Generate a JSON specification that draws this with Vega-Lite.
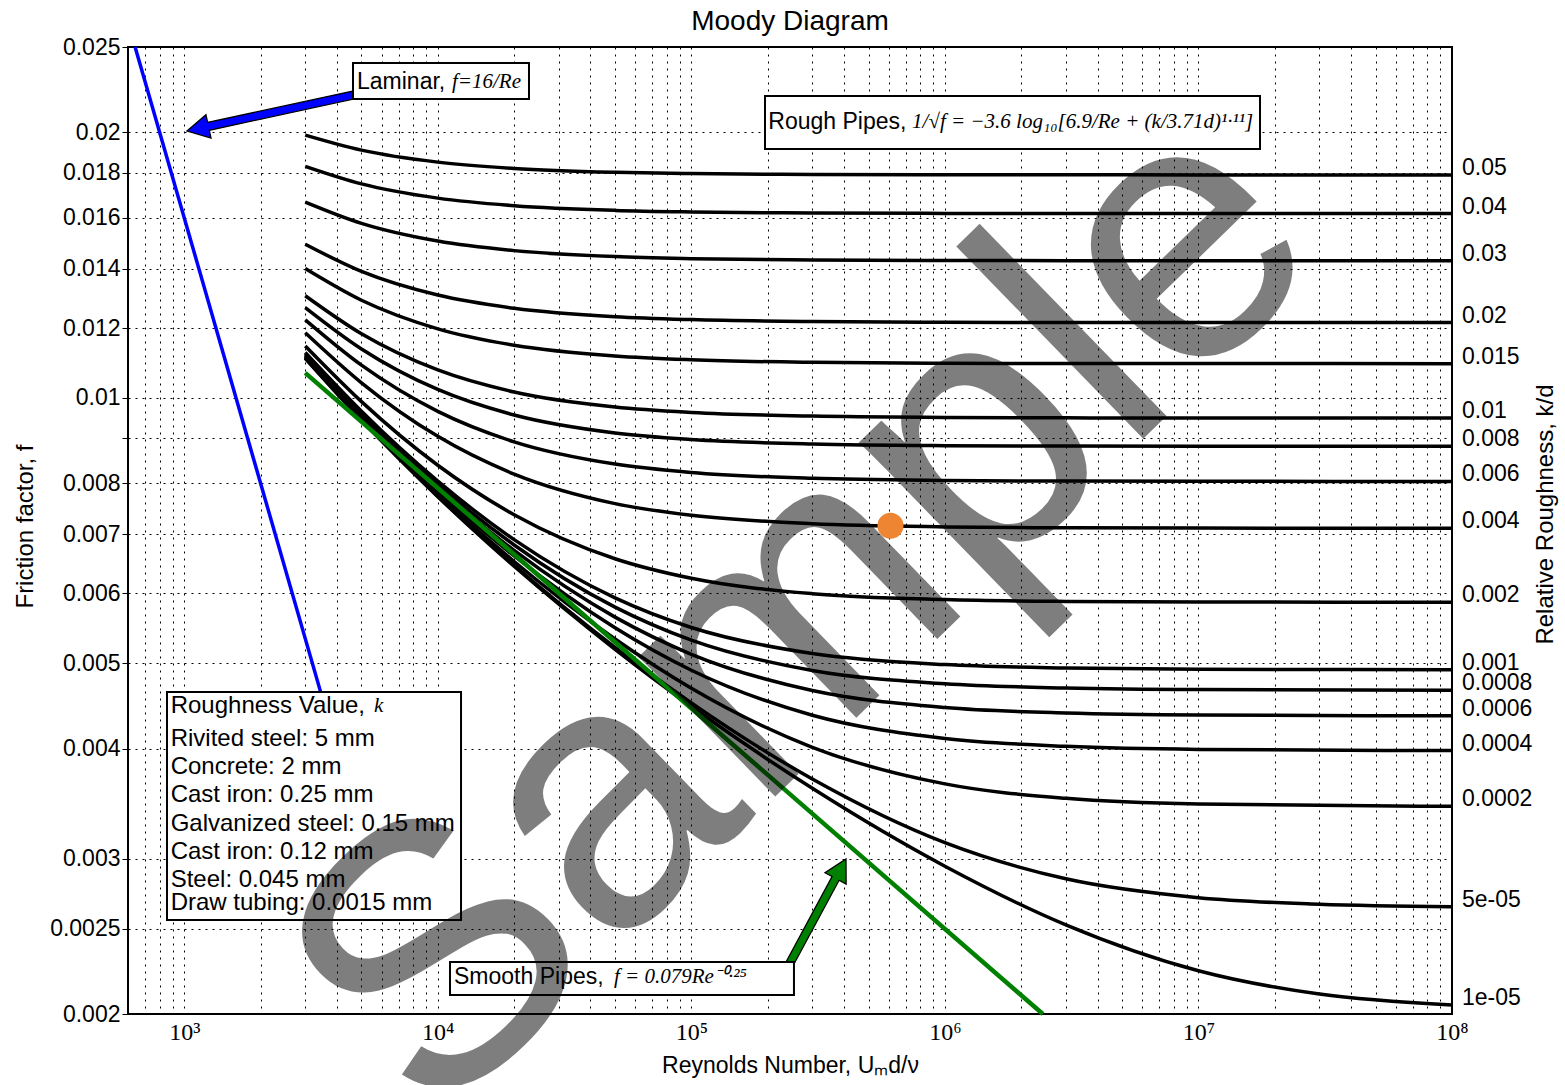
{
  "$schema": "https://vega.github.io/schema/vega-lite/v6.json",
  "width": 1324,
  "height": 967,
  "autosize": {"type": "none"},
  "padding": {"left": 128, "top": 47, "right": 113, "bottom": 71},
  "background": "white",
  "title": {"text": "Moody Diagram", "fontSize": 28, "fontWeight": "normal", "font": "Liberation Sans", "color": "black", "frame": "group", "anchor": "middle", "baseline": "alphabetic", "offset": -22},
  "config": {"view": {"stroke": "black", "strokeWidth": 2}, "font": "Liberation Sans"},
  "resolve": {"axis": {"y": "independent"}},
  "datasets": {
    "curves": [
      {"k":"0.05","Re":3000,"f":0.019862},{"k":"0.05","Re":5000,"f":0.019097},{"k":"0.05","Re":10000,"f":0.018507},{"k":"0.05","Re":20000,"f":0.018206},{"k":"0.05","Re":50000,"f":0.018023},{"k":"0.05","Re":100000,"f":0.017962},{"k":"0.05","Re":300000,"f":0.017921},{"k":"0.05","Re":1000000,"f":0.017907},{"k":"0.05","Re":3000000,"f":0.017902},{"k":"0.05","Re":10000000,"f":0.017901},{"k":"0.05","Re":100000000,"f":0.017901},
      {"k":"0.04","Re":3000,"f":0.018307},{"k":"0.04","Re":5000,"f":0.017486},{"k":"0.04","Re":10000,"f":0.016846},{"k":"0.04","Re":20000,"f":0.016517},{"k":"0.04","Re":50000,"f":0.016316},{"k":"0.04","Re":100000,"f":0.016249},{"k":"0.04","Re":300000,"f":0.016204},{"k":"0.04","Re":1000000,"f":0.016188},{"k":"0.04","Re":3000000,"f":0.016183},{"k":"0.04","Re":10000000,"f":0.016181},{"k":"0.04","Re":100000000,"f":0.016181},
      {"k":"0.03","Re":3000,"f":0.016674},{"k":"0.03","Re":5000,"f":0.015772},{"k":"0.03","Re":10000,"f":0.015059},{"k":"0.03","Re":20000,"f":0.014688},{"k":"0.03","Re":50000,"f":0.014460},{"k":"0.03","Re":100000,"f":0.014384},{"k":"0.03","Re":300000,"f":0.014332},{"k":"0.03","Re":1000000,"f":0.014314},{"k":"0.03","Re":3000000,"f":0.014308},{"k":"0.03","Re":10000000,"f":0.014306},{"k":"0.03","Re":100000000,"f":0.014306},
      {"k":"0.02","Re":3000,"f":0.014936},{"k":"0.02","Re":5000,"f":0.013912},{"k":"0.02","Re":10000,"f":0.013079},{"k":"0.02","Re":20000,"f":0.012636},{"k":"0.02","Re":50000,"f":0.012360},{"k":"0.02","Re":100000,"f":0.012266},{"k":"0.02","Re":300000,"f":0.012203},{"k":"0.02","Re":1000000,"f":0.012181},{"k":"0.02","Re":3000000,"f":0.012174},{"k":"0.02","Re":10000000,"f":0.012172},{"k":"0.02","Re":100000000,"f":0.012171},
      {"k":"0.015","Re":3000,"f":0.014016},{"k":"0.015","Re":5000,"f":0.012902},{"k":"0.015","Re":10000,"f":0.011975},{"k":"0.015","Re":20000,"f":0.011472},{"k":"0.015","Re":50000,"f":0.011154},{"k":"0.015","Re":100000,"f":0.011044},{"k":"0.015","Re":300000,"f":0.010970},{"k":"0.015","Re":1000000,"f":0.010944},{"k":"0.015","Re":3000000,"f":0.010937},{"k":"0.015","Re":10000000,"f":0.010935},{"k":"0.015","Re":100000000,"f":0.010934},
      {"k":"0.01","Re":3000,"f":0.013055},{"k":"0.01","Re":5000,"f":0.011820},{"k":"0.01","Re":10000,"f":0.010754},{"k":"0.01","Re":20000,"f":0.010153},{"k":"0.01","Re":50000,"f":0.009763},{"k":"0.01","Re":100000,"f":0.009626},{"k":"0.01","Re":300000,"f":0.009533},{"k":"0.01","Re":1000000,"f":0.009500},{"k":"0.01","Re":3000000,"f":0.009490},{"k":"0.01","Re":10000000,"f":0.009487},{"k":"0.01","Re":100000000,"f":0.009486},
      {"k":"0.008","Re":3000,"f":0.012659},{"k":"0.008","Re":5000,"f":0.011362},{"k":"0.008","Re":10000,"f":0.010220},{"k":"0.008","Re":20000,"f":0.009561},{"k":"0.008","Re":50000,"f":0.009123},{"k":"0.008","Re":100000,"f":0.008969},{"k":"0.008","Re":300000,"f":0.008863},{"k":"0.008","Re":1000000,"f":0.008825},{"k":"0.008","Re":3000000,"f":0.008815},{"k":"0.008","Re":10000000,"f":0.008811},{"k":"0.008","Re":100000000,"f":0.008809},
      {"k":"0.006","Re":3000,"f":0.012257},{"k":"0.006","Re":5000,"f":0.010889},{"k":"0.006","Re":10000,"f":0.009651},{"k":"0.006","Re":20000,"f":0.008914},{"k":"0.006","Re":50000,"f":0.008411},{"k":"0.006","Re":100000,"f":0.008229},{"k":"0.006","Re":300000,"f":0.008103},{"k":"0.006","Re":1000000,"f":0.008058},{"k":"0.006","Re":3000000,"f":0.008045},{"k":"0.006","Re":10000000,"f":0.008040},{"k":"0.006","Re":100000000,"f":0.008038},
      {"k":"0.004","Re":3000,"f":0.011852},{"k":"0.004","Re":5000,"f":0.010400},{"k":"0.004","Re":10000,"f":0.009042},{"k":"0.004","Re":20000,"f":0.008194},{"k":"0.004","Re":50000,"f":0.007586},{"k":"0.004","Re":100000,"f":0.007358},{"k":"0.004","Re":300000,"f":0.007197},{"k":"0.004","Re":1000000,"f":0.007138},{"k":"0.004","Re":3000000,"f":0.007121},{"k":"0.004","Re":10000000,"f":0.007116},{"k":"0.004","Re":100000000,"f":0.007113},
      {"k":"0.002","Re":3000,"f":0.011450},{"k":"0.002","Re":5000,"f":0.009901},{"k":"0.002","Re":10000,"f":0.008385},{"k":"0.002","Re":20000,"f":0.007368},{"k":"0.002","Re":50000,"f":0.006568},{"k":"0.002","Re":100000,"f":0.006241},{"k":"0.002","Re":300000,"f":0.005996},{"k":"0.002","Re":1000000,"f":0.005904},{"k":"0.002","Re":3000000,"f":0.005876},{"k":"0.002","Re":10000000,"f":0.005867},{"k":"0.002","Re":100000000,"f":0.005863},
      {"k":"0.001","Re":3000,"f":0.011257},{"k":"0.001","Re":5000,"f":0.009654},{"k":"0.001","Re":10000,"f":0.008043},{"k":"0.001","Re":20000,"f":0.006905},{"k":"0.001","Re":50000,"f":0.005931},{"k":"0.001","Re":100000,"f":0.005489},{"k":"0.001","Re":300000,"f":0.005128},{"k":"0.001","Re":1000000,"f":0.004982},{"k":"0.001","Re":3000000,"f":0.004938},{"k":"0.001","Re":10000000,"f":0.004922},{"k":"0.001","Re":100000000,"f":0.004916},
      {"k":"0.0008","Re":3000,"f":0.011220},{"k":"0.0008","Re":5000,"f":0.009607},{"k":"0.0008","Re":10000,"f":0.007975},{"k":"0.0008","Re":20000,"f":0.006809},{"k":"0.0008","Re":50000,"f":0.005788},{"k":"0.0008","Re":100000,"f":0.005310},{"k":"0.0008","Re":300000,"f":0.004906},{"k":"0.0008","Re":1000000,"f":0.004738},{"k":"0.0008","Re":3000000,"f":0.004686},{"k":"0.0008","Re":10000000,"f":0.004667},{"k":"0.0008","Re":100000000,"f":0.004660},
      {"k":"0.0006","Re":3000,"f":0.011183},{"k":"0.0006","Re":5000,"f":0.009559},{"k":"0.0006","Re":10000,"f":0.007907},{"k":"0.0006","Re":20000,"f":0.006712},{"k":"0.0006","Re":50000,"f":0.005639},{"k":"0.0006","Re":100000,"f":0.005118},{"k":"0.0006","Re":300000,"f":0.004656},{"k":"0.0006","Re":1000000,"f":0.004454},{"k":"0.0006","Re":3000000,"f":0.004390},{"k":"0.0006","Re":10000000,"f":0.004367},{"k":"0.0006","Re":100000000,"f":0.004358},
      {"k":"0.0004","Re":3000,"f":0.011148},{"k":"0.0004","Re":5000,"f":0.009514},{"k":"0.0004","Re":10000,"f":0.007841},{"k":"0.0004","Re":20000,"f":0.006616},{"k":"0.0004","Re":50000,"f":0.005484},{"k":"0.0004","Re":100000,"f":0.004909},{"k":"0.0004","Re":300000,"f":0.004365},{"k":"0.0004","Re":1000000,"f":0.004108},{"k":"0.0004","Re":3000000,"f":0.004024},{"k":"0.0004","Re":10000000,"f":0.003992},{"k":"0.0004","Re":100000000,"f":0.003980},
      {"k":"0.0002","Re":3000,"f":0.011115},{"k":"0.0002","Re":5000,"f":0.009470},{"k":"0.0002","Re":10000,"f":0.007777},{"k":"0.0002","Re":20000,"f":0.006521},{"k":"0.0002","Re":50000,"f":0.005326},{"k":"0.0002","Re":100000,"f":0.004683},{"k":"0.0002","Re":300000,"f":0.004014},{"k":"0.0002","Re":1000000,"f":0.003648},{"k":"0.0002","Re":3000000,"f":0.003513},{"k":"0.0002","Re":10000000,"f":0.003461},{"k":"0.0002","Re":100000000,"f":0.003440},
      {"k":"5e-05","Re":3000,"f":0.011092},{"k":"5e-05","Re":5000,"f":0.009441},{"k":"5e-05","Re":10000,"f":0.007734},{"k":"5e-05","Re":20000,"f":0.006456},{"k":"5e-05","Re":50000,"f":0.005211},{"k":"5e-05","Re":100000,"f":0.004508},{"k":"5e-05","Re":300000,"f":0.003695},{"k":"5e-05","Re":1000000,"f":0.003129},{"k":"5e-05","Re":3000000,"f":0.002847},{"k":"5e-05","Re":10000000,"f":0.002710},{"k":"5e-05","Re":30000000,"f":0.002664},{"k":"5e-05","Re":100000000,"f":0.002647},
      {"k":"1e-05","Re":3000,"f":0.011087},{"k":"1e-05","Re":5000,"f":0.009434},{"k":"1e-05","Re":10000,"f":0.007724},{"k":"1e-05","Re":20000,"f":0.006440},{"k":"1e-05","Re":50000,"f":0.005184},{"k":"1e-05","Re":100000,"f":0.004465},{"k":"1e-05","Re":300000,"f":0.003606},{"k":"1e-05","Re":1000000,"f":0.002942},{"k":"1e-05","Re":3000000,"f":0.002524},{"k":"1e-05","Re":10000000,"f":0.002239},{"k":"1e-05","Re":30000000,"f":0.002107},{"k":"1e-05","Re":100000000,"f":0.002048}
    ],
    "laminar": [{"Re": 640, "f": 0.025}, {"Re": 4000, "f": 0.004}],
    "smooth": [{"Re": 3000, "f": 0.010674}, {"Re": 2434000, "f": 0.002}],
    "dot": [{"Re": 610000, "f": 0.00716}],
    "blueTip": [{"Re": 1025, "f": 0.020074}],
    "greenTip": [{"Re": 407300, "f": 0.002998}],
    "boxes": [
      {"Re": 4630, "Re2": 22890, "f": 0.023976, "f2": 0.021825},
      {"Re": 195200, "Re2": 17490000, "f": 0.021997, "f2": 0.019150},
      {"Re": 855, "Re2": 12348, "f": 0.004638, "f2": 0.0025568},
      {"Re": 11173, "Re2": 253930, "f": 0.0022913, "f2": 0.0021017}
    ],
    "headers": [
      {"Re": 4801, "f": 0.022835, "t": "Laminar,"},
      {"Re": 201120, "f": 0.020573, "t": "Rough Pipes,"},
      {"Re": 11587, "f": 0.0022031, "t": "Smooth Pipes,"}
    ],
    "roughness": [
      {"Re": 884, "f": 0.0044711, "t": "Roughness Value,"},
      {"Re": 884, "f": 0.0040992, "t": "Rivited steel: 5 mm"},
      {"Re": 884, "f": 0.0038102, "t": "Concrete: 2 mm"},
      {"Re": 884, "f": 0.0035408, "t": "Cast iron: 0.25 mm"},
      {"Re": 884, "f": 0.0032854, "t": "Galvanized steel: 0.15 mm"},
      {"Re": 884, "f": 0.0030559, "t": "Cast iron: 0.12 mm"},
      {"Re": 884, "f": 0.0028375, "t": "Steel: 0.045 mm"},
      {"Re": 884, "f": 0.0026751, "t": "Draw tubing: 0.0015 mm"}
    ],
    "math": [
      {"Re": 11376, "f": 0.022835, "t": "f=16/Re"},
      {"Re": 742000, "f": 0.020573, "t": "1/√f = −3.6 log₁₀[6.9/Re + (k/3.71d)¹·¹¹]"},
      {"Re": 49536, "f": 0.0022031, "t": "f = 0.079Re⁻⁰·²⁵"},
      {"Re": 5602, "f": 0.0044711, "t": "k"}
    ],
    "labels": [
      {"Re": 100000000, "f": 0.017901, "t": "0.05"},
      {"Re": 100000000, "f": 0.016181, "t": "0.04"},
      {"Re": 100000000, "f": 0.014306, "t": "0.03"},
      {"Re": 100000000, "f": 0.012171, "t": "0.02"},
      {"Re": 100000000, "f": 0.010934, "t": "0.015"},
      {"Re": 100000000, "f": 0.009486, "t": "0.01"},
      {"Re": 100000000, "f": 0.008809, "t": "0.008"},
      {"Re": 100000000, "f": 0.008038, "t": "0.006"},
      {"Re": 100000000, "f": 0.007113, "t": "0.004"},
      {"Re": 100000000, "f": 0.005863, "t": "0.002"},
      {"Re": 100000000, "f": 0.004916, "t": "0.001"},
      {"Re": 100000000, "f": 0.004660, "t": "0.0008"},
      {"Re": 100000000, "f": 0.004358, "t": "0.0006"},
      {"Re": 100000000, "f": 0.003980, "t": "0.0004"},
      {"Re": 100000000, "f": 0.003440, "t": "0.0002"},
      {"Re": 100000000, "f": 0.002647, "t": "5e-05"},
      {"Re": 100000000, "f": 0.002048, "t": "1e-05"}
    ],
    "watermark": [{"Re": 280000, "f": 0.0057, "t": "Sample"}]
  },
  "encoding": {
    "x": {"field": "Re", "type": "quantitative", "scale": {"type": "log", "domain": [600, 100000000], "nice": false},
      "axis": {"values": [700,800,900,1000,2000,3000,4000,5000,6000,7000,8000,9000,10000,20000,30000,40000,50000,60000,70000,80000,90000,100000,200000,300000,400000,500000,600000,700000,800000,900000,1000000,2000000,3000000,4000000,5000000,6000000,7000000,8000000,9000000,10000000,20000000,30000000,40000000,50000000,60000000,70000000,80000000,90000000,100000000],
        "labelExpr": "datum.value == 1000 ? '10³' : datum.value == 10000 ? '10⁴' : datum.value == 100000 ? '10⁵' : datum.value == 1000000 ? '10⁶' : datum.value == 10000000 ? '10⁷' : datum.value == 100000000 ? '10⁸' : ''",
        "labelFont": "Liberation Serif", "labelFontSize": 24, "labelColor": "black", "labelPadding": 6, "labelOverlap": false, "labelFlush": false,
        "ticks": false, "domain": false, "grid": true, "gridColor": "black", "gridDash": [2, 5], "gridWidth": 1, "gridOpacity": 1,
        "title": "Reynolds Number, Uₘd/ν", "titleFont": "Liberation Sans", "titleFontSize": 23, "titleFontWeight": "normal", "titleColor": "black",
        "titleX": 662, "titleY": 51, "titleAlign": "center", "titleBaseline": "middle"}}
  },
  "layer": [
    {
      "encoding": {
        "y": {"field": "f", "type": "quantitative", "scale": {"type": "log", "domain": [0.002, 0.025], "nice": false},
          "axis": {"orient": "left", "values": [0.002,0.0025,0.003,0.004,0.005,0.006,0.007,0.008,0.009,0.01,0.012,0.014,0.016,0.018,0.02,0.025],
            "labelExpr": "datum.value == 0.009 ? '' : format(datum.value, '~g')",
            "labelFont": "Liberation Sans", "labelFontSize": 23, "labelColor": "black", "labelPadding": 2, "labelOverlap": false, "labelFlush": false,
            "ticks": true, "tickSize": 6, "tickColor": "black", "tickWidth": 1, "domain": false,
            "grid": true, "gridColor": "black", "gridDash": [2, 5], "gridWidth": 1, "gridOpacity": 1,
            "title": "Friction factor, f", "titleFont": "Liberation Sans", "titleFontSize": 24, "titleFontWeight": "normal", "titleColor": "black",
            "titleX": -103, "titleY": 479, "titleAngle": 270, "titleAlign": "center", "titleBaseline": "middle"}}
      },
      "layer": [
        {
          "data": {"name": "curves"},
          "mark": {"type": "line", "color": "black", "strokeWidth": 3.5, "interpolate": "monotone"},
          "encoding": {"detail": {"field": "k", "type": "nominal"}}
        },
        {
          "data": {"name": "laminar"},
          "mark": {"type": "line", "color": "#0000ff", "strokeWidth": 3.5}
        },
        {
          "data": {"name": "smooth"},
          "mark": {"type": "line", "color": "#008000", "strokeWidth": 4.5}
        },
        {
          "data": {"name": "dot"},
          "mark": {"type": "point", "shape": "circle", "filled": true, "color": "#ee8533", "size": 680, "opacity": 1}
        },
        {
          "data": {"name": "blueTip"},
          "mark": {"type": "point", "shape": "M0,0L12,22L4,22L4,185L-4,185L-4,22L-12,22Z", "size": 4, "angle": 257.8, "filled": true, "color": "#0000ff", "stroke": "black", "strokeWidth": 1.3, "opacity": 1}
        },
        {
          "data": {"name": "greenTip"},
          "mark": {"type": "point", "shape": "M0,0L12,22L4,22L4,125L-4,125L-4,22L-12,22Z", "size": 4, "angle": 28.3, "filled": true, "color": "#008000", "stroke": "black", "strokeWidth": 1.3, "opacity": 1}
        },
        {
          "data": {"name": "boxes"},
          "mark": {"type": "rect", "fill": "white", "stroke": "black", "strokeWidth": 2},
          "encoding": {"x2": {"field": "Re2"}, "y2": {"field": "f2"}}
        },
        {
          "data": {"name": "headers"},
          "mark": {"type": "text", "align": "left", "baseline": "middle", "font": "Liberation Sans", "fontSize": 23, "color": "black"},
          "encoding": {"text": {"field": "t"}}
        },
        {
          "data": {"name": "roughness"},
          "mark": {"type": "text", "align": "left", "baseline": "middle", "font": "Liberation Sans", "fontSize": 24, "color": "black"},
          "encoding": {"text": {"field": "t"}}
        },
        {
          "data": {"name": "math"},
          "mark": {"type": "text", "align": "left", "baseline": "middle", "font": "Liberation Serif", "fontStyle": "italic", "fontSize": 21, "color": "black"},
          "encoding": {"text": {"field": "t"}}
        },
        {
          "data": {"name": "watermark"},
          "mark": {"type": "text", "align": "center", "baseline": "middle", "font": "Liberation Sans", "fontSize": 370, "angle": 315.8, "color": "black", "opacity": 0.5},
          "encoding": {"text": {"field": "t"}}
        }
      ]
    },
    {
      "data": {"name": "labels"},
      "mark": {"type": "text", "align": "left", "baseline": "alphabetic", "dx": 10, "font": "Liberation Sans", "fontSize": 23, "color": "black"},
      "encoding": {
        "text": {"field": "t"},
        "y": {"field": "f", "type": "quantitative", "scale": {"type": "log", "domain": [0.002, 0.025], "nice": false},
          "axis": {"orient": "right", "labels": false, "ticks": false, "domain": false, "grid": false,
            "title": "Relative Roughness, k/d", "titleFont": "Liberation Sans", "titleFontSize": 24, "titleFontWeight": "normal", "titleColor": "black",
            "titleX": 93, "titleY": 467, "titleAngle": 270, "titleAlign": "center", "titleBaseline": "middle"}}
      }
    }
  ]
}
